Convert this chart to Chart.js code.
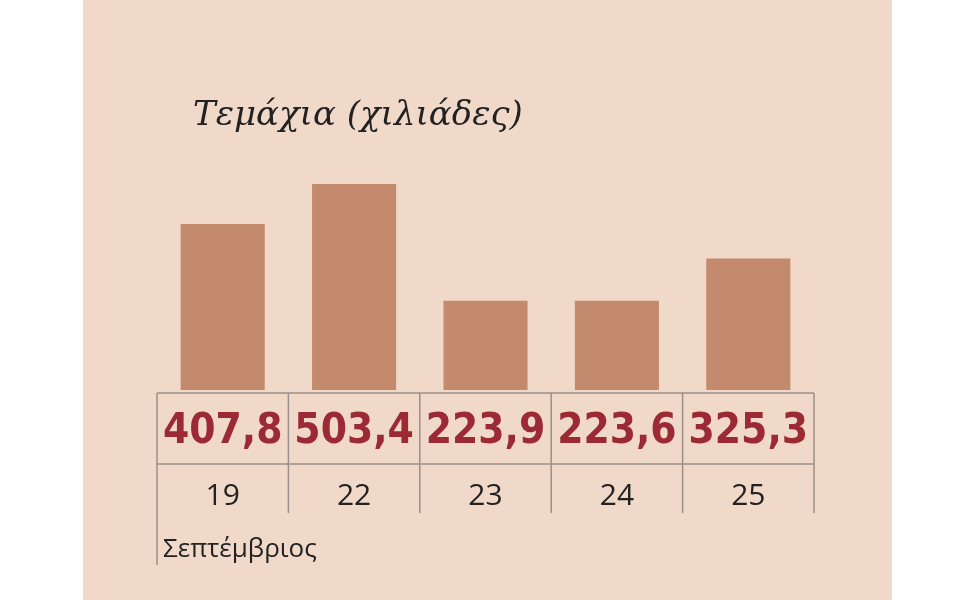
<!DOCTYPE html>
<html><head><meta charset="utf-8">
<script src="https://cdn.jsdelivr.net/npm/chart.js@4"></script>
<style>html,body{margin:0;padding:0;background:#fff}#w{width:960px;height:600px}</style>
</head><body><div id="w"><canvas id="c"></canvas></div>
<script>
const categories = ["19","22","23","24","25"];
const values = [407.8, 503.4, 223.9, 223.6, 325.3];
const valueLabels = ["407,8","503,4","223,9","223,6","325,3"];
const title = "Τεμάχια (χιλιάδες)";
const monthLabel = "Σεπτέμβριος";

const deco = {
  id:'deco',
  beforeDraw(chart){
    const c=chart.ctx;
    c.save();
    c.fillStyle='#F1D9CA';
    c.fillRect(83,0,809,600);
    c.restore();
  },
  afterDraw(chart){
    const c=chart.ctx, x=chart.scales.x, a=chart.chartArea;
    const L=a.left, R=a.right, y1=393, y2=464, y3=513;
    c.save();
    c.strokeStyle='#9a8f8a'; c.lineWidth=1.5;
    c.beginPath();
    c.moveTo(L,y1);c.lineTo(R,y1);c.moveTo(L,y2);c.lineTo(R,y2);
    c.moveTo(L,y1);c.lineTo(L,565);
    const step=(R-L)/categories.length;
    for(let i=1;i<=categories.length;i++){c.moveTo(L+step*i,y1);c.lineTo(L+step*i,y3);}
    c.stroke();
    c.textAlign='center';c.textBaseline='middle';
    categories.forEach((cat,i)=>{
      const cx=x.getPixelForValue(i);
      c.fillStyle='#9B2A35';c.font='bold 42px "DejaVu Sans Condensed", Roboto, sans-serif';
      c.fillText(valueLabels[i],cx,432);
      c.fillStyle='#222';c.font='30px "Open Sans", sans-serif';
      c.fillText(cat,cx,496);
    });
    c.textAlign='left';
    c.font='26px "Open Sans", sans-serif';c.fillStyle='#222';
    c.fillText(monthLabel,163,550);
    c.font='italic 34px "DejaVu Serif", "Liberation Serif", serif';
    c.fillText(title,193,116);
    c.restore();
  }
};

new Chart(document.getElementById('c'),{
  type:'bar',
  data:{labels:categories,datasets:[{data:values,backgroundColor:'#C48A6E',barPercentage:0.64,categoryPercentage:1}]},
  options:{responsive:true,maintainAspectRatio:false,animation:false,
    layout:{padding:{left:157,right:146,top:150,bottom:210}},
    plugins:{legend:{display:false},tooltip:{enabled:false}},
    scales:{x:{display:false},y:{display:false,min:10,max:585}}},
  plugins:[deco]
});
</script></body></html>
